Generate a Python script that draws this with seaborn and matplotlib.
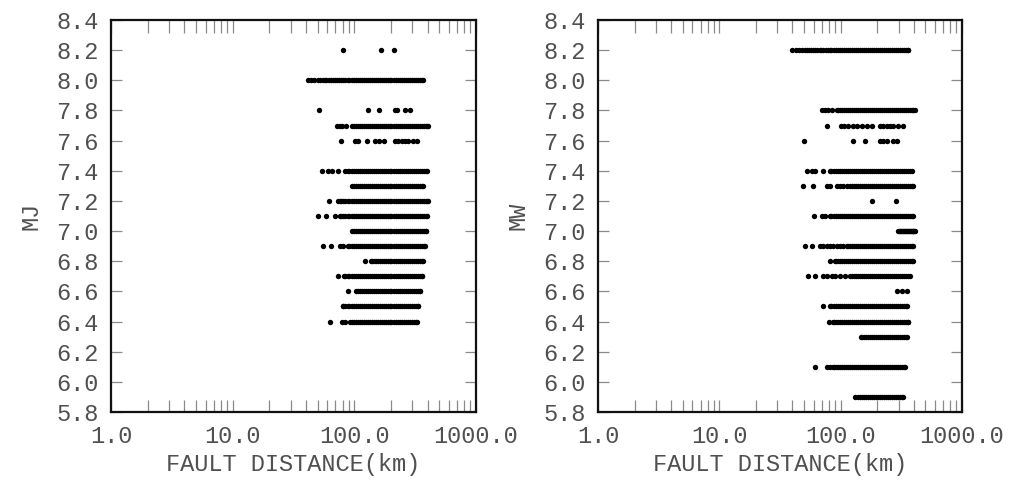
import matplotlib
matplotlib.use("Agg")
import matplotlib.pyplot as plt
import matplotlib.ticker as mticker
import numpy as np
import pandas as pd
import seaborn as sns

# Fault distance (km) of each record, grouped by JMA magnitude (MJ)
mj_rows = {
    8.2: [80, 165, 211],
    8.0: [42, 44, 47, 50, 52, 55, 57, 59, 62, 64, 67, 69, 72, 75, 78, 81, 84, 88, 91, 95, 99, 103, 107, 111, 115, 120, 124, 129, 134, 140, 145, 150, 156, 162, 168, 174, 181, 188, 195, 202, 210, 218, 227, 236, 245, 254, 264, 274, 285, 296, 307, 319, 331, 344, 357, 366],
    7.8: [51, 129, 159, 216, 224, 261, 287],
    7.7: [72, 76, 79, 85, 95, 99, 103, 107, 111, 115, 120, 124, 129, 134, 140, 145, 150, 156, 162, 168, 174, 181, 188, 195, 202, 210, 218, 227, 236, 245, 254, 264, 274, 285, 296, 307, 319, 331, 344, 357, 371, 385, 397, 403],
    7.6: [78, 101, 107, 127, 148, 159, 175, 216, 228, 246, 260, 276, 303, 327],
    7.4: [54, 61, 65, 73, 84, 88, 91, 95, 99, 103, 107, 111, 115, 120, 124, 129, 134, 140, 145, 150, 156, 162, 168, 174, 181, 188, 195, 202, 210, 218, 227, 236, 245, 254, 264, 274, 285, 296, 307, 319, 331, 344, 357, 371, 385, 395],
    7.3: [95, 99, 103, 107, 111, 115, 120, 124, 129, 134, 140, 145, 150, 156, 162, 168, 174, 181, 188, 195, 202, 210, 218, 227, 236, 245, 254, 264, 274, 285, 296, 307, 319, 331, 344, 357, 366],
    7.2: [62, 73, 76, 78, 81, 84, 88, 91, 95, 99, 103, 107, 111, 115, 120, 124, 129, 134, 140, 145, 150, 156, 162, 168, 174, 181, 188, 195, 202, 210, 218, 227, 236, 245, 254, 264, 274, 285, 296, 307, 319, 331, 344, 357, 371, 385, 397, 403],
    7.1: [50, 59, 69, 76, 78, 81, 84, 88, 91, 95, 99, 103, 107, 111, 115, 120, 124, 129, 134, 140, 145, 150, 156, 162, 168, 174, 181, 188, 195, 202, 210, 218, 227, 236, 245, 254, 264, 274, 285, 296, 307, 319, 331, 344, 357, 371, 385, 395],
    7.0: [95, 99, 103, 107, 111, 115, 120, 124, 129, 134, 140, 145, 150, 156, 162, 168, 174, 181, 188, 195, 202, 210, 218, 227, 236, 245, 254, 264, 274, 285, 296, 307, 319, 331, 344, 357, 371, 385, 388],
    6.9: [55, 64, 76, 80, 88, 91, 95, 99, 103, 107, 111, 115, 120, 124, 129, 134, 140, 145, 150, 156, 162, 168, 174, 181, 188, 195, 202, 210, 218, 227, 236, 245, 254, 264, 274, 285, 296, 307, 319, 331, 344, 357, 371, 380],
    6.8: [122, 137, 140, 145, 150, 156, 162, 168, 174, 181, 188, 195, 202, 210, 218, 227, 236, 245, 254, 264, 274, 285, 296, 307, 319, 331, 344, 357, 366],
    6.7: [73, 82, 84, 88, 91, 95, 99, 103, 107, 111, 115, 120, 124, 129, 134, 140, 145, 150, 156, 162, 168, 174, 181, 188, 195, 202, 210, 218, 227, 236, 245, 254, 264, 274, 285, 296, 307, 319, 331, 344, 357, 359],
    6.6: [88, 103, 107, 111, 115, 120, 124, 129, 134, 140, 145, 150, 156, 162, 168, 174, 181, 188, 195, 202, 210, 218, 227, 236, 245, 254, 264, 274, 285, 296, 307, 319, 331, 344, 346],
    6.5: [80, 81, 84, 88, 91, 95, 99, 103, 107, 111, 115, 120, 124, 129, 134, 140, 145, 150, 156, 162, 168, 174, 181, 188, 195, 202, 210, 218, 227, 236, 245, 254, 264, 274, 285, 296, 307, 319, 331, 333],
    6.4: [63, 79, 84, 92, 95, 99, 103, 107, 111, 115, 120, 124, 129, 134, 140, 145, 150, 156, 162, 168, 174, 181, 188, 195, 202, 210, 218, 227, 236, 245, 254, 264, 274, 285, 296, 307, 319, 327],
}

# Fault distance (km) of each record, grouped by moment magnitude (MW)
mw_rows = {
    8.2: [40, 43, 45, 48, 51, 53, 55, 57, 59, 62, 64, 67, 69, 72, 75, 78, 81, 84, 88, 91, 95, 99, 103, 107, 111, 115, 120, 124, 129, 134, 140, 145, 150, 156, 162, 168, 174, 181, 188, 195, 202, 210, 218, 227, 236, 245, 254, 264, 274, 285, 296, 307, 319, 331, 344, 357, 360],
    7.8: [70, 74, 79, 85, 93, 95, 99, 103, 107, 111, 115, 120, 124, 129, 134, 140, 145, 150, 156, 162, 168, 174, 181, 188, 195, 202, 210, 218, 227, 236, 245, 254, 264, 274, 285, 296, 307, 319, 331, 344, 357, 371, 385, 397, 410],
    7.7: [77, 101, 107, 115, 126, 136, 150, 165, 181, 211, 224, 241, 255, 270, 297, 327],
    7.6: [50, 126, 159, 211, 224, 241, 270, 291],
    7.4: [53, 58, 61, 72, 82, 84, 88, 91, 95, 99, 103, 107, 111, 115, 120, 124, 129, 134, 140, 145, 150, 156, 162, 168, 174, 181, 188, 195, 202, 210, 218, 227, 236, 245, 254, 264, 274, 285, 296, 307, 319, 331, 344, 357, 371, 387],
    7.3: [49, 59, 77, 82, 93, 99, 105, 113, 120, 124, 129, 134, 140, 145, 150, 156, 162, 168, 174, 181, 188, 195, 202, 210, 218, 227, 236, 245, 254, 264, 274, 285, 296, 307, 319, 331, 344, 357, 371, 385, 395],
    7.2: [181, 286],
    7.1: [60, 70, 74, 82, 84, 88, 91, 95, 99, 103, 107, 111, 115, 120, 124, 129, 134, 140, 145, 150, 156, 162, 168, 174, 181, 188, 195, 202, 210, 218, 227, 236, 245, 254, 264, 274, 285, 296, 307, 319, 331, 344, 357, 371, 385, 395],
    7.0: [297, 302, 307, 313, 319, 325, 331, 338, 344, 350, 357, 364, 371, 378, 385, 391, 397, 404, 410],
    6.9: [51, 58, 68, 72, 77, 82, 86, 93, 99, 105, 113, 115, 120, 124, 129, 134, 140, 145, 150, 156, 162, 168, 174, 181, 188, 195, 202, 210, 218, 227, 236, 245, 254, 264, 274, 285, 296, 307, 319, 331, 344, 357, 371, 385, 395],
    6.8: [82, 90, 91, 95, 99, 103, 107, 111, 115, 120, 124, 129, 134, 140, 145, 150, 156, 162, 168, 174, 181, 188, 195, 202, 210, 218, 227, 236, 245, 254, 264, 274, 285, 296, 307, 319, 331, 344, 357, 371, 385, 395],
    6.7: [54, 61, 72, 77, 85, 90, 99, 109, 120, 124, 129, 134, 140, 145, 150, 156, 162, 168, 174, 181, 188, 195, 202, 210, 218, 227, 236, 245, 254, 264, 274, 285, 296, 307, 319, 331, 344, 357, 373],
    6.6: [291, 320, 352],
    6.5: [72, 82, 84, 88, 91, 95, 99, 103, 107, 111, 115, 120, 124, 129, 134, 140, 145, 150, 156, 162, 168, 174, 181, 188, 195, 202, 210, 218, 227, 236, 245, 254, 264, 274, 285, 296, 307, 319, 331, 344, 352],
    6.4: [80, 86, 88, 91, 95, 99, 103, 107, 111, 115, 120, 124, 129, 134, 140, 145, 150, 156, 162, 168, 174, 181, 188, 195, 202, 210, 218, 227, 236, 245, 254, 264, 274, 285, 296, 307, 319, 331, 344, 357, 360],
    6.3: [147, 150, 156, 162, 168, 174, 181, 188, 195, 202, 210, 218, 227, 236, 245, 254, 264, 274, 285, 296, 307, 319, 331, 344, 352],
    6.1: [61, 77, 82, 86, 88, 91, 95, 99, 103, 107, 111, 115, 120, 124, 129, 134, 140, 145, 150, 156, 162, 168, 174, 181, 188, 195, 202, 210, 218, 227, 236, 245, 254, 264, 274, 285, 296, 307, 319, 331, 340],
    5.9: [131, 139, 145, 150, 156, 162, 168, 174, 181, 188, 195, 202, 210, 218, 227, 236, 245, 254, 264, 274, 285, 296, 307, 319, 327],
}

x_ticks = [1.0, 10.0, 100.0, 1000.0]
y_ticks = [5.8, 6.0, 6.2, 6.4, 6.6, 6.8, 7.0, 7.2, 7.4, 7.6, 7.8, 8.0, 8.2, 8.4]
panels = [("MJ", mj_rows), ("MW", mw_rows)]
x_title = "FAULT DISTANCE(km)"


def to_frame(rows, name):
    recs = [(d, m) for m, ds in rows.items() for d in ds]
    return pd.DataFrame(recs, columns=["distance", name])


sns.set_style("white")
plt.rcParams["font.family"] = ["Liberation Mono", "DejaVu Sans Mono"]
text_color = "#505050"

fig = plt.figure(figsize=(10.13, 4.90), dpi=100)
boxes = [(111 / 1013, 78 / 490, 365 / 1013, 392 / 490),
         (598 / 1013, 78 / 490, 364 / 1013, 392 / 490)]

for (name, rows), box in zip(panels, boxes):
    ax = fig.add_axes(box)
    df = to_frame(rows, name)
    sns.scatterplot(data=df, x="distance", y=name, ax=ax, color="black",
                    s=15, linewidth=0, marker="o", legend=False)
    ax.set_xscale("log")
    ax.set_xlim(1.0, 1000.0)
    ax.set_ylim(5.8, 8.4)
    ax.xaxis.set_major_locator(mticker.FixedLocator(x_ticks))
    ax.xaxis.set_minor_locator(mticker.LogLocator(base=10, subs=np.arange(2, 10)))
    ax.xaxis.set_minor_formatter(mticker.NullFormatter())
    ax.xaxis.set_major_formatter(mticker.FuncFormatter(lambda v, p: f"{v:.1f}"))
    ax.set_yticks(y_ticks)
    ax.yaxis.set_major_formatter(mticker.FuncFormatter(lambda v, p: f"{v:.1f}"))
    ax.tick_params(axis="both", which="both", direction="in", color="#8a8a8a",
                   width=0.9, top=True, bottom=True, left=True, right=True)
    ax.tick_params(axis="x", which="both", length=9, pad=9)
    ax.tick_params(axis="y", which="both", length=8, pad=9)
    ax.tick_params(axis="both", which="major", labelsize=17, labelcolor=text_color)
    for sp in ax.spines.values():
        sp.set_visible(True)
        sp.set_color("#111111")
        sp.set_linewidth(1.6)
    ax.set_xlabel(x_title, fontsize=17, color=text_color, labelpad=4)
    ax.set_ylabel(name, fontsize=17, color=text_color, labelpad=10)
    ax.grid(False)

fig.savefig("out.png", dpi=100, facecolor="white")
